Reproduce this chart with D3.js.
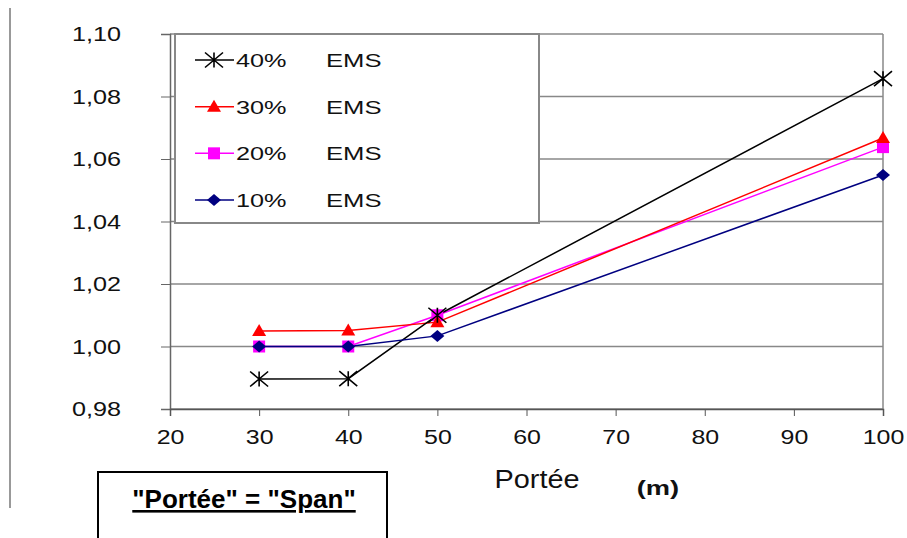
<!DOCTYPE html>
<html>
<head>
<meta charset="utf-8">
<script src="https://cdn.jsdelivr.net/npm/d3@7"></script>
<style>
  body { margin: 0; background: #fff; }
  svg { font-family: "Liberation Sans", Arial, sans-serif; }
</style>
</head>
<body>
<svg id="chart" width="907" height="538"></svg>
<script>
// data
const spans = [30, 40, 50, 100];
const ems40 = [0.9896, 0.9897, 1.0100, 1.0857];
const ems30 = [1.0050, 1.0051, 1.0078, 1.0667];
const ems20 = [1.0000, 1.0000, 1.0100, 1.0638];
const ems10 = [1.0000, 1.0000, 1.0034, 1.0549];
const seriesNames = ['40%', '30%', '20%', '10%'];
const seriesColors = ['#000000', '#ff0000', '#ff00ff', '#000080'];
const seriesShapes = ['star', 'triangle', 'square', 'diamond'];
const drawOrder = ['20%', '30%', '40%', '10%'];  // back to front, as in the picture
const xTicks = [20, 30, 40, 50, 60, 70, 80, 90, 100];
const yTicks = [0.98, 1.00, 1.02, 1.04, 1.06, 1.08, 1.10];

const series = [ems40, ems30, ems20, ems10].map((vals, i) => ({
    name: seriesNames[i],
    color: seriesColors[i],
    shape: seriesShapes[i],
    points: vals.map((v, j) => ({ x: spans[j], y: v }))
}));

const svg = d3.select('#chart');
const plotLeft = 170, plotRight = 883, plotTop = 34, plotBottom = 409;

const x = d3.scaleLinear().domain([20, 100]).range([plotLeft, plotRight]);
const y = d3.scaleLinear().domain([0.98, 1.10]).range([plotBottom, plotTop]);
const fmt = d => d3.format('.2f')(d).replace('.', ',');

/**
 * widens text horizontally around its own x anchor (the source picture is stretched)
 */
function stretch(sel, sx) {
    sel.each(function () {
        const ax = +this.getAttribute('x') || 0;
        this.setAttribute('transform', `translate(${ax * (1 - sx)},0) scale(${sx},1)`);
    });
}

// left border line of the figure
svg.append('line')
    .attr('x1', 10).attr('x2', 10).attr('y1', 8).attr('y2', 508)
    .attr('stroke', '#999').attr('stroke-width', 2);

// gridlines
svg.append('g')
    .selectAll('line')
    .data(yTicks)
    .join('line')
    .attr('x1', plotLeft).attr('x2', plotRight)
    .attr('y1', d => y(d)).attr('y2', d => y(d))
    .attr('stroke', '#888').attr('stroke-width', 1.5);

// right border
svg.append('line')
    .attr('x1', plotRight).attr('x2', plotRight).attr('y1', plotTop).attr('y2', plotBottom)
    .attr('stroke', '#888').attr('stroke-width', 1.5);

// y axis
const yAxis = svg.append('g')
    .attr('transform', `translate(${plotLeft},0)`)
    .call(d3.axisLeft(y).tickValues(yTicks).tickFormat(fmt).tickSize(9).tickPadding(40));
yAxis.select('.domain').attr('stroke', '#666').attr('stroke-width', 1.5);
yAxis.selectAll('.tick line').attr('stroke', '#666');
yAxis.selectAll('text').attr('font-size', 21).attr('fill', '#111')
    .attr('font-family', '"Liberation Sans", Arial, sans-serif')
    .call(stretch, 1.2);

// x axis
const xAxis = svg.append('g')
    .attr('transform', `translate(0,${plotBottom})`)
    .call(d3.axisBottom(x).tickValues(xTicks).tickFormat(d3.format('d')).tickSize(7).tickPadding(14));
xAxis.select('.domain').attr('stroke', '#555').attr('stroke-width', 1.5);
xAxis.selectAll('.tick line').attr('stroke', '#555');
xAxis.selectAll('text').attr('font-size', 19.5).attr('fill', '#111')
    .attr('font-family', '"Liberation Sans", Arial, sans-serif')
    .call(stretch, 1.28);

// axis title
svg.append('text')
    .attr('x', 537).attr('y', 488)
    .attr('text-anchor', 'middle')
    .attr('font-size', 26).attr('fill', '#111')
    .text('Portée')
    .call(stretch, 1.11);
svg.append('text')
    .attr('x', 658).attr('y', 495)
    .attr('text-anchor', 'middle')
    .attr('font-size', 21).attr('font-weight', 'bold').attr('fill', '#111')
    .text('(m)')
    .call(stretch, 1.3);

/**
 * draws one marker shape at the origin
 */
function drawMarker(g, shape, color) {
    if (shape === 'star') {
        const rx = 9, ry = 7.5;
        g.append('path')
            .attr('d', `M${-rx},${-ry}L${rx},${ry}M${-rx},${ry}L${rx},${-ry}M0,${-ry}L0,${ry}`)
            .attr('stroke', color).attr('stroke-width', 1.6).attr('fill', 'none');
    } else if (shape === 'triangle') {
        g.append('path').attr('d', 'M0,-7L7,5L-7,5Z').attr('fill', color);
    } else if (shape === 'square') {
        g.append('path').attr('d', 'M-6,-6H6V6H-6Z').attr('fill', color);
    } else {
        g.append('path').attr('d', 'M0,-6L7,0L0,6L-7,0Z').attr('fill', color);
    }
}

// lines and markers
const ordered = drawOrder.map(n => series.find(s => s.name === n));
const line = d3.line().x(d => x(d.x)).y(d => y(d.y));
ordered.forEach(s => {
    svg.append('path')
        .datum(s.points)
        .attr('d', line)
        .attr('fill', 'none')
        .attr('stroke', s.color)
        .attr('stroke-width', 1.5);
});
ordered.forEach(s => {
    s.points.forEach(p => {
        const g = svg.append('g').attr('transform', `translate(${x(p.x)},${y(p.y)})`);
        drawMarker(g, s.shape, s.color);
    });
});

// legend
const legend = svg.append('g');
legend.append('rect')
    .attr('x', 175).attr('y', 34).attr('width', 364).attr('height', 189)
    .attr('fill', '#fff').attr('stroke', '#888').attr('stroke-width', 2);
const rowY = d3.scalePoint().domain(seriesNames).range([60, 200]);
series.forEach(s => {
    const ry = rowY(s.name);
    const g = legend.append('g');
    g.append('line')
        .attr('x1', 195).attr('x2', 234).attr('y1', ry).attr('y2', ry)
        .attr('stroke', s.color).attr('stroke-width', 1.5);
    drawMarker(g.append('g').attr('transform', `translate(214,${ry})`), s.shape, s.color);
    g.append('text')
        .attr('x', 236).attr('y', ry + 7)
        .attr('font-size', 19).attr('fill', '#111')
        .text(s.name)
        .call(stretch, 1.33);
    g.append('text')
        .attr('x', 326).attr('y', ry + 7)
        .attr('font-size', 19).attr('fill', '#111')
        .text('EMS')
        .call(stretch, 1.35);
});

// note box
svg.append('rect')
    .attr('x', 98).attr('y', 472).attr('width', 289).attr('height', 80)
    .attr('fill', '#fff').attr('stroke', '#000').attr('stroke-width', 2);
svg.append('text')
    .attr('x', 244).attr('y', 508)
    .attr('text-anchor', 'middle')
    .attr('font-size', 26).attr('font-weight', 'bold').attr('fill', '#000')
    .attr('text-decoration', 'underline')
    .text('"Portée" = "Span"');
</script>
</body>
</html>
